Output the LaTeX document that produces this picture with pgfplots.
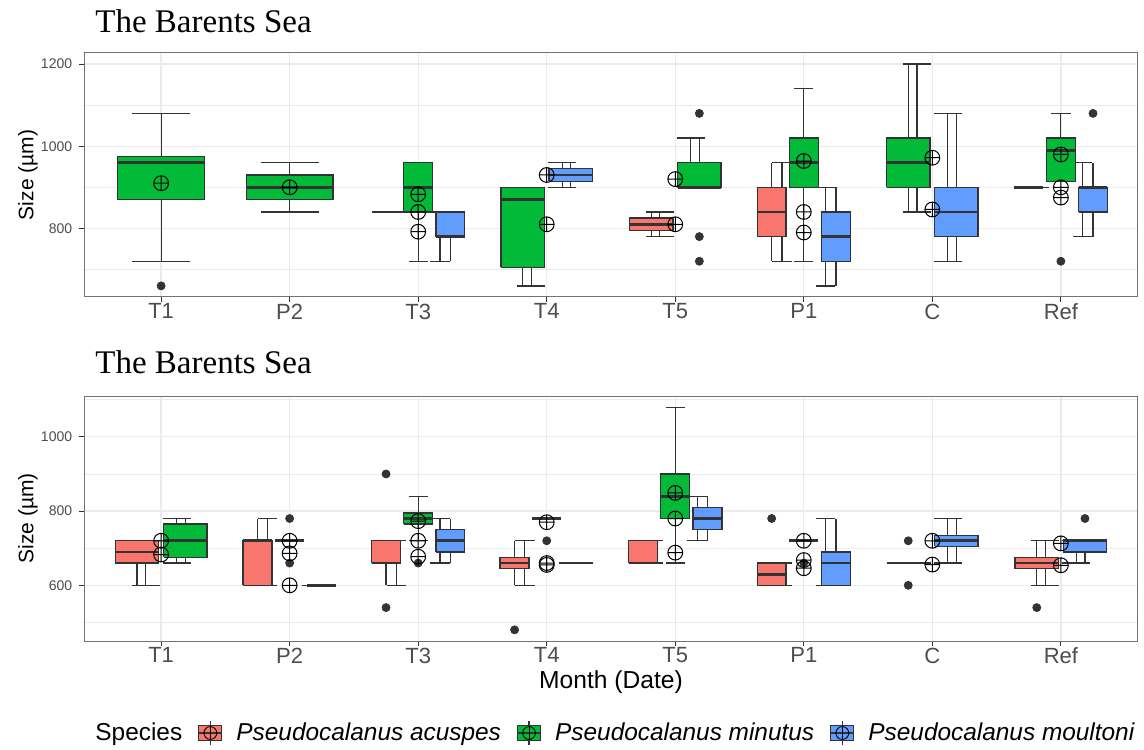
\documentclass[border=0pt]{standalone}
\usepackage{fontspec}
\setmainfont{Liberation Sans}
\newfontfamily\titlefont{Liberation Serif}
\usepackage{pgfplots}
\pgfplotsset{compat=1.18}
\usetikzlibrary{plotmarks}
\definecolor{cR}{HTML}{F8766D}
\definecolor{cG}{HTML}{00BA38}
\definecolor{cB}{HTML}{619CFF}
\definecolor{g20}{HTML}{333333}
\definecolor{g30}{HTML}{4D4D4D}
\definecolor{gridc}{HTML}{EBEBEB}
\newcommand{\lgkey}[1]{%
  \draw[g20, line width=0.6pt] (5.75pt,-6pt) -- (5.75pt,6pt);
  \draw[fill=#1, draw=g20, line width=0.6pt] (0pt,-3.75pt) rectangle (11.5pt,3.75pt);
  \draw[g20, line width=0.6pt] (0pt,0pt) -- (11.5pt,0pt);
  \draw[black, line width=0.45pt] (5.75pt,0pt) circle (3.2pt);
  \draw[black, line width=0.45pt] (5.75pt,-3.2pt) -- (5.75pt,3.2pt);}
\pgfplotsset{
  panel/.style={
    scale only axis, width=527pt,
    xmin=0.4, xmax=8.6, xtick={1,2,3,4,5,6,7,8},
    xticklabels={T1,P2,T3,T4,T5,P1,C,Ref},
    unbounded coords=jump,
    grid=both,
    major grid style={gridc, line width=0.65pt},
    minor grid style={gridc, line width=0.35pt},
    tick align=outside, tick pos=left,
    major tick length=2.4pt, minor tick length=0pt,
    tick style={g20, line width=0.5pt},
    axis line style={black!55, line width=0.5pt},
    /pgf/number format/assume math mode=true,
    /pgf/number format/1000 sep={},
    yticklabel style={font=\fontsize{7}{8}\selectfont, color=g30},
    xticklabel style={font=\fontsize{11}{12}\selectfont, color=g30, inner ysep=0.8pt},
    ylabel={Size (µm)},
    ylabel style={font=\fontsize{10.5}{12}\selectfont, at={(axis description cs:-0.0531,0.5)}, anchor=center},
  },
  ebar/.style={forget plot, no markers, g20, line width=0.6pt},
  boxR/.style={forget plot, no markers, draw=g20, fill=cR, line width=0.65pt},
  boxG/.style={forget plot, no markers, draw=g20, fill=cG, line width=0.65pt},
  boxB/.style={forget plot, no markers, draw=g20, fill=cB, line width=0.65pt},
  whisk/.style={forget plot, no markers, g20, line width=0.6pt},
  medn/.style={forget plot, no markers, g20, line width=1.4pt},
  outl/.style={forget plot, only marks, mark=*, mark size=2pt, color=black!80, mark options={fill=black!80, draw=black!80}},
  mn/.style={forget plot, only marks, mark=oplus, mark size=3.7pt, color=black, mark options={line width=0.5pt}},
}
\begin{document}
\begin{tikzpicture}
\path[use as bounding box] (0pt,0pt) rectangle (572pt,374.5pt);
\node[anchor=base west, inner sep=0pt, font=\titlefont\fontsize{16.5}{19}\selectfont] at (47.5pt,358pt) {The Barents Sea};
\node[anchor=base west, inner sep=0pt, font=\titlefont\fontsize{16.5}{19}\selectfont] at (47.5pt,187.5pt) {The Barents Sea};

% ---------------- top panel ----------------
\begin{axis}[panel, at={(42pt,226pt)}, anchor=south west, height=122pt,
  ymin=633, ymax=1227, ytick={800,1000,1200}, minor ytick={700,900,1100}]
% error bars (whisker caps)
\addplot[ebar] coordinates {
(1,720)(1,1080) (nan,nan) (0.775,720)(1.225,720) (nan,nan) (0.775,1080)(1.225,1080) (nan,nan)
(2,840)(2,960) (nan,nan) (1.775,840)(2.225,840) (nan,nan) (1.775,960)(2.225,960) (nan,nan)
(2.755,840)(2.905,840) (nan,nan)
(3,720)(3,960) (nan,nan) (2.925,720)(3.075,720) (nan,nan) (2.925,960)(3.075,960) (nan,nan)
(3.17,720)(3.17,840) (nan,nan) (3.095,720)(3.245,720) (nan,nan) (3.095,840)(3.245,840) (nan,nan)
(3.88,660)(3.88,900) (nan,nan) (3.771,660)(3.989,660) (nan,nan) (3.771,900)(3.989,900) (nan,nan)
(4.12,900)(4.12,960) (nan,nan) (4.011,900)(4.229,900) (nan,nan) (4.011,960)(4.229,960) (nan,nan)
(4.88,780)(4.88,840) (nan,nan) (4.771,780)(4.989,780) (nan,nan) (4.771,840)(4.989,840) (nan,nan)
(5.12,900)(5.12,1020) (nan,nan) (5.011,900)(5.229,900) (nan,nan) (5.011,1020)(5.229,1020) (nan,nan)
(5.83,720)(5.83,960) (nan,nan) (5.755,720)(5.905,720) (nan,nan) (5.755,960)(5.905,960) (nan,nan)
(6,720)(6,1140) (nan,nan) (5.925,720)(6.075,720) (nan,nan) (5.925,1140)(6.075,1140) (nan,nan)
(6.17,660)(6.17,900) (nan,nan) (6.095,660)(6.245,660) (nan,nan) (6.095,900)(6.245,900) (nan,nan)
(6.88,840)(6.88,1200) (nan,nan) (6.771,840)(6.989,840) (nan,nan) (6.771,1200)(6.989,1200) (nan,nan)
(7.12,720)(7.12,1080) (nan,nan) (7.011,720)(7.229,720) (nan,nan) (7.011,1080)(7.229,1080) (nan,nan)
(7.755,900)(7.905,900) (nan,nan)
(8,915)(8,1080) (nan,nan) (7.925,915)(8.075,915) (nan,nan) (7.925,1080)(8.075,1080) (nan,nan)
(8.17,780)(8.17,960) (nan,nan) (8.095,780)(8.245,780) (nan,nan) (8.095,960)(8.245,960)
};
% boxes
\addplot[boxG] coordinates {
(0.6625,870)(1.3375,870)(1.3375,975)(0.6625,975)(0.6625,870) (nan,nan)
(1.6625,870)(2.3375,870)(2.3375,930)(1.6625,930)(1.6625,870) (nan,nan)
(2.8875,840)(3.1125,840)(3.1125,960)(2.8875,960)(2.8875,840) (nan,nan)
(3.64375,705)(3.98125,705)(3.98125,900)(3.64375,900)(3.64375,705) (nan,nan)
(5.01875,900)(5.35625,900)(5.35625,960)(5.01875,960)(5.01875,900) (nan,nan)
(5.8875,900)(6.1125,900)(6.1125,1020)(5.8875,1020)(5.8875,900) (nan,nan)
(6.64375,900)(6.98125,900)(6.98125,1020)(6.64375,1020)(6.64375,900) (nan,nan)
(7.8875,915)(8.1125,915)(8.1125,1020)(7.8875,1020)(7.8875,915)
};
\addplot[boxR] coordinates {
(4.64375,795)(4.98125,795)(4.98125,825)(4.64375,825)(4.64375,795) (nan,nan)
(5.6375,780)(5.8625,780)(5.8625,900)(5.6375,900)(5.6375,780)
};
\addplot[boxB] coordinates {
(3.1375,780)(3.3625,780)(3.3625,840)(3.1375,840)(3.1375,780) (nan,nan)
(4.01875,915)(4.35625,915)(4.35625,945)(4.01875,945)(4.01875,915) (nan,nan)
(6.1375,720)(6.3625,720)(6.3625,840)(6.1375,840)(6.1375,720) (nan,nan)
(7.01875,780)(7.35625,780)(7.35625,900)(7.01875,900)(7.01875,780) (nan,nan)
(8.1375,840)(8.3625,840)(8.3625,900)(8.1375,900)(8.1375,840)
};
% whiskers at box centres
\addplot[whisk] coordinates {
(1,975)(1,1080) (nan,nan) (1,720)(1,870) (nan,nan)
(2,930)(2,960) (nan,nan) (2,840)(2,870) (nan,nan)
(3,720)(3,840) (nan,nan)
(3.25,720)(3.25,780) (nan,nan)
(3.8125,660)(3.8125,705) (nan,nan)
(4.1875,945)(4.1875,960) (nan,nan) (4.1875,900)(4.1875,915) (nan,nan)
(4.8125,825)(4.8125,840) (nan,nan) (4.8125,780)(4.8125,795) (nan,nan)
(5.1875,960)(5.1875,1020) (nan,nan)
(5.75,900)(5.75,960) (nan,nan) (5.75,720)(5.75,780) (nan,nan)
(6,1020)(6,1140) (nan,nan) (6,720)(6,900) (nan,nan)
(6.25,840)(6.25,900) (nan,nan) (6.25,660)(6.25,720) (nan,nan)
(6.8125,1020)(6.8125,1200) (nan,nan) (6.8125,840)(6.8125,900) (nan,nan)
(7.1875,900)(7.1875,1080) (nan,nan) (7.1875,720)(7.1875,780) (nan,nan)
(8,1020)(8,1080) (nan,nan)
(8.25,900)(8.25,960) (nan,nan) (8.25,780)(8.25,840)
};
% medians
\addplot[medn] coordinates {
(0.6625,960)(1.3375,960) (nan,nan) (1.6625,900)(2.3375,900) (nan,nan)
(2.6375,840)(2.8625,840) (nan,nan) (2.8875,900)(3.1125,900) (nan,nan) (3.1375,780)(3.3625,780) (nan,nan)
(3.64375,870)(3.98125,870) (nan,nan) (4.01875,930)(4.35625,930) (nan,nan)
(4.64375,810)(4.98125,810) (nan,nan) (5.01875,900)(5.35625,900) (nan,nan)
(5.6375,840)(5.8625,840) (nan,nan) (5.8875,960)(6.1125,960) (nan,nan) (6.1375,780)(6.3625,780) (nan,nan)
(6.64375,960)(6.98125,960) (nan,nan) (7.01875,840)(7.35625,840) (nan,nan)
(7.6375,900)(7.8625,900) (nan,nan) (7.8875,990)(8.1125,990) (nan,nan) (8.1375,900)(8.3625,900)
};
\addplot[outl] coordinates {(1,660) (5.1875,1080) (5.1875,780) (5.1875,720) (8,720) (8.25,1080)};
\addplot[mn] coordinates {(1,910) (2,900) (3,883) (3,840) (3,792) (4,930) (4,810) (5,920) (5,810) (6,964) (6,840) (6,790) (7,972) (7,846) (8,980) (8,900) (8,875)};
\end{axis}

% ---------------- bottom panel ----------------
\begin{axis}[panel, at={(42pt,54pt)}, anchor=south west, height=122.5pt,
  ymin=450, ymax=1110, ytick={600,800,1000}, minor ytick={500,700,900,1100},
  xlabel={Month (Date)},
  xlabel style={font=\fontsize{12.3}{14}\selectfont, at={(axis description cs:0.5,-0.167)}, anchor=center},
  legend columns=-1, legend cell align=left,
  legend style={at={(-0.0028,-0.3755)}, anchor=west, draw=none, fill=none, inner sep=0pt,
    font=\fontsize{12.2}{14}\selectfont, nodes={inner xsep=0pt},
    /tikz/every odd column/.append style={column sep=7pt},
    /tikz/every even column/.append style={column sep=8pt}}]
\addplot[ebar] coordinates {
(0.88,600)(0.88,720) (nan,nan) (0.771,600)(0.989,600) (nan,nan) (0.771,720)(0.989,720) (nan,nan)
(1.12,660)(1.12,780) (nan,nan) (1.011,660)(1.229,660) (nan,nan) (1.011,780)(1.229,780) (nan,nan)
(1.83,600)(1.83,780) (nan,nan) (1.755,600)(1.905,600) (nan,nan) (1.755,780)(1.905,780) (nan,nan)
(1.925,720)(2.075,720) (nan,nan)
(2.095,600)(2.245,600) (nan,nan)
(2.83,600)(2.83,720) (nan,nan) (2.755,600)(2.905,600) (nan,nan) (2.755,720)(2.905,720) (nan,nan)
(3,720)(3,840) (nan,nan) (2.925,720)(3.075,720) (nan,nan) (2.925,840)(3.075,840) (nan,nan)
(3.17,660)(3.17,780) (nan,nan) (3.095,660)(3.245,660) (nan,nan) (3.095,780)(3.245,780) (nan,nan)
(3.83,600)(3.83,720) (nan,nan) (3.755,600)(3.905,600) (nan,nan) (3.755,720)(3.905,720) (nan,nan)
(3.925,780)(4.075,780) (nan,nan)
(4.095,660)(4.245,660) (nan,nan)
(4.83,660)(4.83,720) (nan,nan) (4.755,660)(4.905,660) (nan,nan) (4.755,720)(4.905,720) (nan,nan)
(5,660)(5,1080) (nan,nan) (4.925,660)(5.075,660) (nan,nan) (4.925,1080)(5.075,1080) (nan,nan)
(5.17,720)(5.17,840) (nan,nan) (5.095,720)(5.245,720) (nan,nan) (5.095,840)(5.245,840) (nan,nan)
(5.83,600)(5.83,660) (nan,nan) (5.755,600)(5.905,600) (nan,nan) (5.755,660)(5.905,660) (nan,nan)
(5.925,720)(6.075,720) (nan,nan)
(6.17,600)(6.17,780) (nan,nan) (6.095,600)(6.245,600) (nan,nan) (6.095,780)(6.245,780) (nan,nan)
(6.771,660)(6.989,660) (nan,nan)
(7.12,660)(7.12,780) (nan,nan) (7.011,660)(7.229,660) (nan,nan) (7.011,780)(7.229,780) (nan,nan)
(7.88,600)(7.88,720) (nan,nan) (7.771,600)(7.989,600) (nan,nan) (7.771,720)(7.989,720) (nan,nan)
(8.12,660)(8.12,720) (nan,nan) (8.011,660)(8.229,660) (nan,nan) (8.011,720)(8.229,720)
};
\addplot[boxR] coordinates {
(0.64375,660)(0.98125,660)(0.98125,720)(0.64375,720)(0.64375,660) (nan,nan)
(1.6375,600)(1.8625,600)(1.8625,720)(1.6375,720)(1.6375,600) (nan,nan)
(2.6375,660)(2.8625,660)(2.8625,720)(2.6375,720)(2.6375,660) (nan,nan)
(3.6375,645)(3.8625,645)(3.8625,675)(3.6375,675)(3.6375,645) (nan,nan)
(4.6375,660)(4.8625,660)(4.8625,720)(4.6375,720)(4.6375,660) (nan,nan)
(5.6375,600)(5.8625,600)(5.8625,660)(5.6375,660)(5.6375,600) (nan,nan)
(7.64375,645)(7.98125,645)(7.98125,675)(7.64375,675)(7.64375,645)
};
\addplot[boxG] coordinates {
(1.01875,675)(1.35625,675)(1.35625,765)(1.01875,765)(1.01875,675) (nan,nan)
(2.8875,765)(3.1125,765)(3.1125,795)(2.8875,795)(2.8875,765) (nan,nan)
(4.8875,780)(5.1125,780)(5.1125,900)(4.8875,900)(4.8875,780)
};
\addplot[boxB] coordinates {
(3.1375,690)(3.3625,690)(3.3625,750)(3.1375,750)(3.1375,690) (nan,nan)
(5.1375,750)(5.3625,750)(5.3625,810)(5.1375,810)(5.1375,750) (nan,nan)
(6.1375,600)(6.3625,600)(6.3625,690)(6.1375,690)(6.1375,600) (nan,nan)
(7.01875,705)(7.35625,705)(7.35625,735)(7.01875,735)(7.01875,705) (nan,nan)
(8.01875,690)(8.35625,690)(8.35625,720)(8.01875,720)(8.01875,690)
};
\addplot[whisk] coordinates {
(0.8125,600)(0.8125,660) (nan,nan)
(1.1875,765)(1.1875,780) (nan,nan) (1.1875,660)(1.1875,675) (nan,nan)
(1.75,720)(1.75,780) (nan,nan)
(2.75,600)(2.75,660) (nan,nan)
(3,795)(3,840) (nan,nan) (3,720)(3,765) (nan,nan)
(3.25,750)(3.25,780) (nan,nan) (3.25,660)(3.25,690) (nan,nan)
(3.75,675)(3.75,720) (nan,nan) (3.75,600)(3.75,645) (nan,nan)
(5,900)(5,1080) (nan,nan) (5,660)(5,780) (nan,nan)
(5.25,810)(5.25,840) (nan,nan) (5.25,720)(5.25,750) (nan,nan)
(6.25,690)(6.25,780) (nan,nan)
(7.1875,735)(7.1875,780) (nan,nan) (7.1875,660)(7.1875,705) (nan,nan)
(7.8125,675)(7.8125,720) (nan,nan) (7.8125,600)(7.8125,645) (nan,nan)
(8.1875,660)(8.1875,690)
};
\addplot[medn] coordinates {
(0.64375,690)(0.98125,690) (nan,nan) (1.01875,720)(1.35625,720) (nan,nan)
(1.6375,720)(1.8625,720) (nan,nan) (1.8875,720)(2.1125,720) (nan,nan) (2.1375,600)(2.3625,600) (nan,nan)
(2.6375,660)(2.8625,660) (nan,nan) (2.8875,780)(3.1125,780) (nan,nan) (3.1375,720)(3.3625,720) (nan,nan)
(3.6375,660)(3.8625,660) (nan,nan) (3.8875,780)(4.1125,780) (nan,nan) (4.1375,660)(4.3625,660) (nan,nan)
(4.6375,660)(4.8625,660) (nan,nan) (4.8875,840)(5.1125,840) (nan,nan) (5.1375,780)(5.3625,780) (nan,nan)
(5.6375,630)(5.8625,630) (nan,nan) (5.8875,720)(6.1125,720) (nan,nan) (6.1375,660)(6.3625,660) (nan,nan)
(6.64375,660)(6.98125,660) (nan,nan) (7.01875,720)(7.35625,720) (nan,nan)
(7.64375,660)(7.98125,660) (nan,nan) (8.01875,720)(8.35625,720)
};
\addplot[outl] coordinates {(2,780) (2,660) (2.75,900) (2.75,540) (3,660) (3.75,480) (4,720) (5.75,780) (6,660) (6.8125,720) (6.8125,600) (7.8125,540) (8.1875,780)};
\addplot[mn] coordinates {(1,720) (1,683) (2,720) (2,686) (2,600) (3,773) (3,720) (3,677) (4,770) (4,660) (4,655) (5,849) (5,780) (5,688) (6,720) (6,668) (6,646) (7,720) (7,656) (8,713) (8,654)};
\addlegendimage{empty legend}
\addlegendentry{Species}
\addlegendimage{legend image code/.code={\lgkey{cR}}}
\addlegendentry{\textit{Pseudocalanus acuspes}}
\addlegendimage{legend image code/.code={\lgkey{cG}}}
\addlegendentry{\textit{Pseudocalanus minutus}}
\addlegendimage{legend image code/.code={\lgkey{cB}}}
\addlegendentry{\textit{Pseudocalanus moultoni}}
\end{axis}
\end{tikzpicture}
\end{document}
